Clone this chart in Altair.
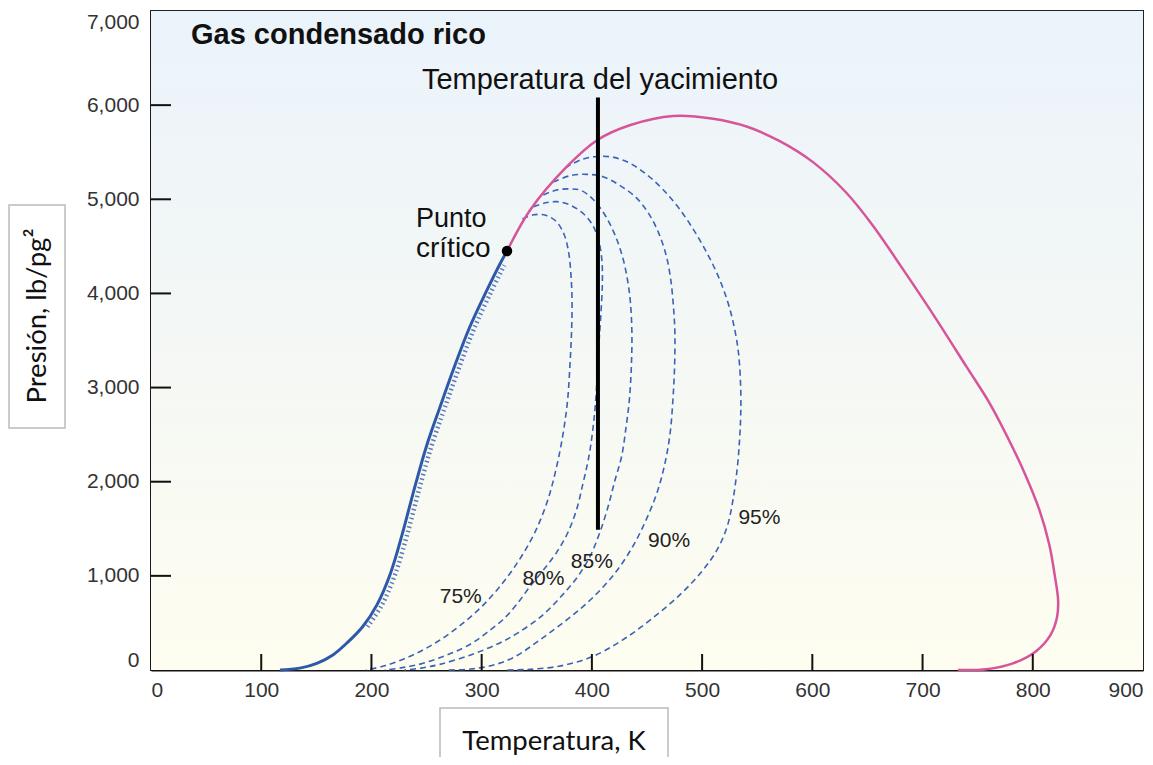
import altair as alt
import pandas as pd

W, H = 992, 659

# ---- data (Temperature K, Pressure lb/pg2) ----
dew_T = [323, 344, 377, 405, 435, 474, 510, 541, 570, 600, 630, 655, 680, 710, 740, 760, 777, 793, 806, 815, 820, 823, 822, 816, 803, 782, 758, 732]
dew_P = [4450, 4886, 5343, 5630, 5789, 5885, 5855, 5770, 5620, 5400, 5080, 4720, 4295, 3770, 3219, 2850, 2475, 2080, 1700, 1330, 1000, 740, 560, 370, 200, 70, 8, 0]

bub_T = [117, 135, 151, 165, 178, 192, 205, 217, 228, 239, 250, 262, 275, 289, 304, 316, 323]
bub_P = [0, 20, 74, 160, 290, 460, 692, 1017, 1445, 1930, 2380, 2787, 3213, 3638, 4016, 4300, 4450]

q75_T = [337, 347, 358, 368, 375, 379, 381, 382, 381.5, 380, 378, 374, 368, 360, 348, 333, 316, 298, 278, 257, 234, 212, 195]
q75_P = [4790, 4835, 4830, 4760, 4620, 4430, 4200, 3930, 3580, 3220, 2870, 2520, 2160, 1806, 1455, 1150, 880, 650, 450, 280, 140, 45, 0]

q80_T = [347, 357, 368, 380, 391, 400, 406, 409, 409.5, 408, 406, 403.5, 400.5, 397, 392, 386, 378, 368, 356, 344, 332, 319, 305, 292, 277, 262, 245, 228, 212]
q80_P = [4920, 4960, 4975, 4940, 4860, 4740, 4570, 4360, 4110, 3750, 3400, 2870, 2520, 2250, 1986, 1700, 1455, 1250, 1062, 890, 700, 531, 400, 290, 200, 130, 65, 25, 0]

q85_T = [356, 368, 380, 390, 401, 412, 421, 428, 432.5, 435, 436.3, 435.8, 434, 431, 427, 421, 414.6, 407, 398, 387, 372, 354, 333, 316, 290, 262, 245, 230]
q85_P = [5046, 5099, 5110, 5095, 5000, 4830, 4620, 4380, 4130, 3900, 3580, 3220, 2870, 2580, 2270, 2018, 1731, 1455, 1200, 990, 780, 570, 395, 285, 160, 60, 20, 0]

q90_T = [365, 380, 395, 410, 425, 440, 452, 461, 467.5, 471.5, 474, 475.3, 475, 473.5, 471, 466, 459, 449, 437, 421, 400, 378, 354, 330, 310, 290, 270]
q90_P = [5184, 5250, 5265, 5240, 5150, 5020, 4840, 4630, 4400, 4150, 3860, 3580, 3220, 2870, 2518, 2180, 1880, 1590, 1310, 1030, 760, 540, 330, 140, 50, 10, 0]

q95_T = [376, 390, 405, 420, 435, 450, 464, 478, 491, 503, 514, 523, 529, 533, 535, 535, 534, 532, 528, 522.6, 513.5, 500, 480, 455, 428, 400, 370, 340, 320]
q95_P = [5333, 5420, 5455, 5445, 5380, 5260, 5110, 4920, 4700, 4460, 4200, 3920, 3650, 3367, 3000, 2700, 2450, 2156, 1806, 1519, 1275, 1050, 800, 550, 320, 140, 40, 5, 0]

q_names = ["75%", "80%", "85%", "90%", "95%"]
lab_T = [281, 356, 400, 470, 552]
lab_P = [775, 967, 1147, 1370, 1615]

crit_T = [323]
crit_P = [4450]

res_T = [405.5]
res_P_low = [1490]
res_P_high = [6080]

x_ticks = [0, 100, 200, 300, 400, 500, 600, 700, 800, 900]
y_ticks = [0, 1000, 2000, 3000, 4000, 5000, 6000, 7000]

title_text = "Gas condensado rico"
res_text = "Temperatura del yacimiento"
crit_text = ["Punto", "crítico"]
x_title = "Temperatura, K"
y_title = "Presión, lb/pg²"

# ---- tables ----
dew = pd.DataFrame({"T": dew_T, "P": dew_P, "o": range(len(dew_T))})
bub = pd.DataFrame({"T": bub_T, "P": bub_P, "o": range(len(bub_T))})
hatch = bub[(bub.P > 300) & (bub.P < 4400)]
rows = []
for name, ts, ps in zip(q_names, [q75_T, q80_T, q85_T, q90_T, q95_T], [q75_P, q80_P, q85_P, q90_P, q95_P]):
    for i, (t, p) in enumerate(zip(ts, ps)):
        rows.append({"q": name, "T": t, "P": p, "o": i})
qual = pd.DataFrame(rows)
labs = pd.DataFrame({"T": lab_T, "P": lab_P, "q": q_names})
crit = pd.DataFrame({"T": crit_T, "P": crit_P})
res = pd.DataFrame({"T": res_T, "P": res_P_low, "P2": res_P_high})
one = pd.DataFrame({"a": [0]})

xs = alt.Scale(domain=[0, 900], nice=False, zero=False)
ys = alt.Scale(domain=[0, 7000], nice=False)
LF = "Liberation Sans"

def X(f="T"):
    return alt.X(f"{f}:Q", scale=xs, axis=alt.Axis(values=x_ticks, title=None, tickSize=0, grid=False,
                 labelFontSize=21, labelFont=LF, labelColor="#333", labelPadding=9,
                 domainColor="#111", domainWidth=2, labelFlush=True))

def Y(f="P"):
    return alt.Y(f"{f}:Q", scale=ys, axis=alt.Axis(values=y_ticks, title=None, tickSize=0, grid=False,
                 format=",d", labelFontSize=21, labelFont=LF, labelColor="#333", labelPadding=12,
                 domainColor="#111", domainWidth=2, labelFlush=True, labelFlushOffset=0))

bg = alt.Chart(one).mark_rect(
    fill=alt.Gradient(gradient="linear",
                      stops=[alt.GradientStop(color="#EBF3FB", offset=0),
                             alt.GradientStop(color="#F5F8F4", offset=0.55),
                             alt.GradientStop(color="#FEFDF0", offset=1)],
                      x1=0, x2=0, y1=0, y2=1)
).encode(x=alt.value(0), x2=alt.value(W), y=alt.value(0), y2=alt.value(H))

qlines = alt.Chart(qual).mark_line(color="#3B63B5", strokeWidth=1.6, strokeDash=[6, 4],
                                   interpolate="catmull-rom").encode(
    x=X(), y=Y(), detail="q:N", order="o:Q")

hatch_l = alt.Chart(hatch).mark_line(color="#3B63B5", strokeWidth=4.5, strokeDash=[1.5, 3],
                                     xOffset=5, interpolate="catmull-rom", opacity=0.85).encode(
    x=X(), y=Y(), order="o:Q")

bub_l = alt.Chart(bub).mark_line(color="#2E59A8", strokeWidth=3, interpolate="catmull-rom").encode(
    x=X(), y=Y(), order="o:Q")

dew_l = alt.Chart(dew).mark_line(color="#D6559A", strokeWidth=2.5, interpolate="catmull-rom").encode(
    x=X(), y=Y(), order="o:Q")

res_l = alt.Chart(res).mark_rule(color="black", strokeWidth=4).encode(x=X(), y=Y(), y2="P2:Q")

crit_p = alt.Chart(crit).mark_circle(color="black", size=110, opacity=1).encode(x=X(), y=Y())

qtext = alt.Chart(labs).mark_text(font=LF, fontSize=21, color="#222", align="center", baseline="middle").encode(
    x=X(), y=Y(), text="q:N")

xt = pd.DataFrame({"v": x_ticks[1:-1]})
yt = pd.DataFrame({"v": y_ticks[1:-1]})
xtick = alt.Chart(xt).mark_rule(color="#111", strokeWidth=2).encode(
    x=X("v"), y=alt.value(H), y2=alt.value(H - 16))
ytick = alt.Chart(yt).mark_rule(color="#111", strokeWidth=2).encode(
    y=Y("v"), x=alt.value(0), x2=alt.value(20))

def txt(s, x, y, **kw):
    return alt.Chart(one).mark_text(**kw).encode(x=alt.value(x), y=alt.value(y), text=alt.value(s))

t_title = txt(title_text, 40, 33, font=LF, fontSize=29, fontWeight="bold", color="#111", align="left", baseline="alphabetic")
t_res = txt(res_text, 449, 78, font=LF, fontSize=29, color="#111", align="center", baseline="alphabetic")
t_c1 = txt(crit_text[0], 265, 216, font=LF, fontSize=27, color="#111", align="left", baseline="alphabetic")
t_c2 = txt(crit_text[1], 265, 246, font=LF, fontSize=28, color="#111", align="left", baseline="alphabetic")

ybox = alt.Chart(one).mark_rect(fill="white", stroke="#BBBBBB", strokeWidth=1.5).encode(
    x=alt.value(-142), x2=alt.value(-86), y=alt.value(194), y2=alt.value(417))
t_y = txt(y_title, -113, 305, font="Lato", fontSize=27.5, color="#111", align="center", baseline="middle", angle=270)
xbox = alt.Chart(one).mark_rect(fill="white", stroke="#BBBBBB", strokeWidth=1.5).encode(
    x=alt.value(289), x2=alt.value(517), y=alt.value(697), y2=alt.value(780))
t_x = txt(x_title, 403, 739, font="Lato", fontSize=27.5, color="#111", align="center", baseline="alphabetic")

chart = alt.layer(
    bg, qlines, hatch_l, bub_l, dew_l, res_l, crit_p, qtext, xtick, ytick,
    t_title, t_res, t_c1, t_c2, ybox, t_y, xbox, t_x
).properties(
    width=W, height=H,
    autosize=alt.AutoSizeParams(type="none"),
    padding={"left": 143, "top": 3, "right": 2, "bottom": 87},
    background="white"
).configure_view(stroke="#222", strokeWidth=2)

chart.save("out.html", embed_options={"renderer": "svg", "actions": False})
